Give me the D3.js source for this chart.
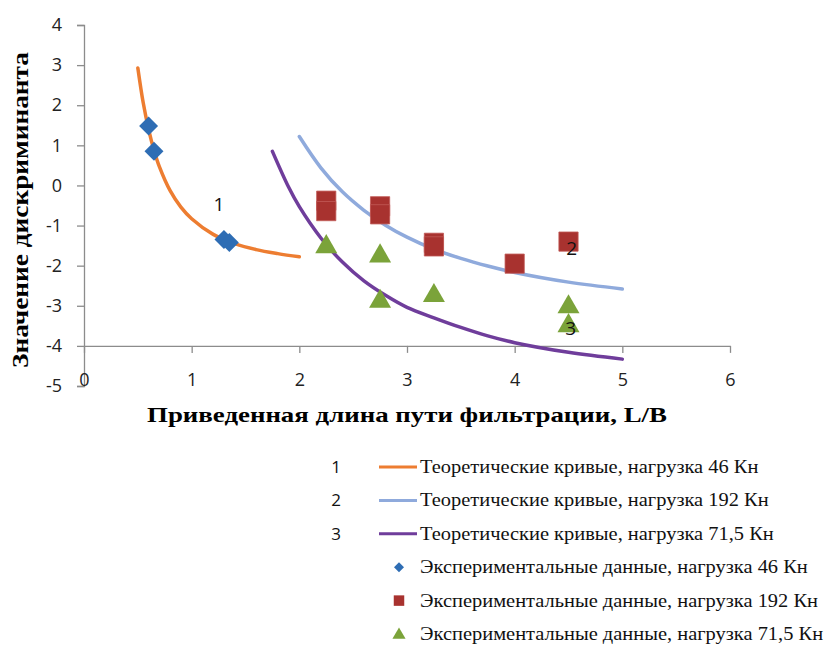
<!DOCTYPE html>
<html><head><meta charset="utf-8">
<script src="https://cdn.jsdelivr.net/npm/d3@7"></script>
<style>body{margin:0;background:#fff}svg{display:block}</style>
</head><body>
<script>
// Theoretical curves
const curve46X  = [0.5, 0.55, 0.6, 0.65, 0.7, 0.8, 0.9, 1.0, 1.2, 1.4, 1.6, 1.8, 2.0];
const curve46Y  = [2.93, 2.06, 1.40, 0.88, 0.47, -0.13, -0.54, -0.83, -1.22, -1.45, -1.60, -1.70, -1.78];
const curve192X = [2.0, 2.2, 2.4, 2.6, 2.8, 3.0, 3.25, 3.5, 3.75, 4.0, 4.5, 5.0];
const curve192Y = [1.22, 0.44, -0.16, -0.62, -0.99, -1.29, -1.59, -1.82, -2.01, -2.17, -2.41, -2.58];
const curve715X = [1.75, 1.9, 2.0, 2.2, 2.4, 2.6, 2.8, 3.0, 3.25, 3.5, 3.75, 4.0, 4.5, 5.0];
const curve715Y = [0.85, -0.04, -0.53, -1.31, -1.91, -2.38, -2.74, -3.04, -3.30, -3.54, -3.75, -3.92, -4.16, -4.33];
// Experimental data
const exp46X  = [0.6, 0.65, 1.3, 1.35];
const exp46Y  = [1.48, 0.85, -1.35, -1.42];
const exp192X = [2.25, 2.25, 2.75, 2.75, 3.25, 3.25, 4.0, 4.5];
const exp192Y = [-0.38, -0.64, -0.52, -0.72, -1.43, -1.52, -1.95, -1.40];
const exp715X = [2.25, 2.75, 2.75, 3.25, 4.5, 4.5];
const exp715Y = [-1.48, -1.71, -2.84, -2.70, -2.98, -3.45];
// Axis ticks
const xTicks = [0, 1, 2, 3, 4, 5, 6];
const yTicks = [-5, -4, -3, -2, -1, 0, 1, 2, 3, 4];
// Labels
const curveLabels = ["1", "2", "3"];
const labelX = [1.253, 4.53, 4.52];
const labelY = [-0.46, -1.56, -3.56];
const legendNames = [
  "Теоретические кривые, нагрузка 46 Кн",
  "Теоретические кривые, нагрузка 192 Кн",
  "Теоретические кривые, нагрузка 71,5 Кн",
  "Экспериментальные данные, нагрузка 46 Кн",
  "Экспериментальные данные, нагрузка 192 Кн",
  "Экспериментальные данные, нагрузка 71,5 Кн"
];
const xTitle = "Приведенная длина пути фильтрации, L/B";
const yTitle = "Значение дискриминанта";

const lineColors = ["#ED7D31", "#8FAADC", "#6F3D9B"];
const markColors = ["#2E6DB4", "#A8322F", "#7BA33A"];

const W = 830, H = 646;
const svg = d3.select("body").append("svg").attr("width", W).attr("height", H);
const x = d3.scaleLinear().domain([0, 6]).range([84, 730]);
const y = d3.scaleLinear().domain([-5, 4]).range([386, 25]);
const sans = "'Open Sans', 'Noto Sans', sans-serif";
const serif = "'Liberation Serif', 'Times New Roman', serif";
const fmt = d => String(d);

// Y axis
const gy = svg.append("g").attr("transform", `translate(${x(0)},0)`)
  .call(d3.axisLeft(y).tickValues(yTicks).tickSize(7).tickPadding(15).tickFormat(fmt));
gy.select(".domain").attr("stroke", "#8c8c8c").attr("stroke-width", 1.3);
gy.selectAll(".tick line").attr("stroke", "#8c8c8c").attr("stroke-width", 1.3);
gy.selectAll("text").attr("font-family", sans).attr("font-size", 18).attr("fill", "#222");

// X axis at y = -4
const gx = svg.append("g").attr("transform", `translate(0,${y(-4)})`)
  .call(d3.axisBottom(x).tickValues(xTicks).tickSize(7).tickPadding(20).tickSizeOuter(0).tickFormat(fmt));
gx.select(".domain").attr("stroke", "#8c8c8c").attr("stroke-width", 1.3);
gx.selectAll(".tick line").attr("stroke", "#8c8c8c").attr("stroke-width", 1.3);
gx.selectAll("text").attr("font-family", sans).attr("font-size", 18).attr("fill", "#222");

// Titles
svg.append("text").attr("x", 407).attr("y", 422).attr("text-anchor", "middle")
  .attr("font-family", serif).attr("font-weight", "bold").attr("font-size", 21.5)
  .attr("textLength", 520).attr("lengthAdjust", "spacingAndGlyphs").text(xTitle);
svg.append("text").attr("transform", `translate(28,210) rotate(-90)`).attr("text-anchor", "middle")
  .attr("font-family", serif).attr("font-weight", "bold").attr("font-size", 24)
  .attr("textLength", 316).attr("lengthAdjust", "spacingAndGlyphs").text(yTitle);

// Curves
const line = d3.line().x(d => x(d[0])).y(d => y(d[1])).curve(d3.curveCatmullRom.alpha(0.5));
const curves = [[curve46X, curve46Y], [curve192X, curve192Y], [curve715X, curve715Y]];
curves.forEach((c, i) => {
  svg.append("path").datum(d3.zip(c[0], c[1])).attr("d", line)
    .attr("fill", "none").attr("stroke", lineColors[i]).attr("stroke-width", 3.5).attr("stroke-linecap", "round");
});

// Markers
function drawMarkers(xs, ys, kind, color, size) {
  const pts = d3.zip(xs, ys);
  const g = svg.append("g").selectAll("path").data(pts).join("path");
  if (kind === "diamond") {
    g.attr("d", d3.symbol().type(d3.symbolSquare).size(size))
      .attr("transform", d => `translate(${x(d[0])},${y(d[1])}) rotate(45)`)
      .attr("fill", color);
  } else if (kind === "square") {
    g.attr("d", d3.symbol().type(d3.symbolSquare).size(size))
      .attr("transform", d => `translate(${x(d[0])},${y(d[1])})`)
      .attr("fill", color).attr("stroke", "#c25a57").attr("stroke-width", 0.8);
  } else {
    g.attr("d", d3.symbol().type(d3.symbolTriangle).size(size))
      .attr("transform", d => `translate(${x(d[0])},${y(d[1]) + 2})`)
      .attr("fill", color);
  }
}
drawMarkers(exp46X, exp46Y, "diamond", markColors[0], 180);
drawMarkers(exp192X, exp192Y, "square", markColors[1], 370);
drawMarkers(exp715X, exp715Y, "triangle", markColors[2], 210);

// Curve number labels
svg.append("g").selectAll("text").data(curveLabels).join("text")
  .attr("x", (d, i) => x(labelX[i]))
  .attr("y", (d, i) => y(labelY[i]) + 7)
  .attr("text-anchor", "middle").attr("font-family", sans).attr("font-size", 19).attr("fill", "#111")
  .text(d => d);

// Legend
const legY0 = 467, legDy = 33.4;
const leg = svg.append("g");
legendNames.forEach((name, i) => {
  const cy = legY0 + i * legDy;
  if (i < 3) {
    leg.append("text").attr("x", 336).attr("y", cy + 6).attr("text-anchor", "middle")
      .attr("font-family", sans).attr("font-size", 17).attr("fill", "#111").text(curveLabels[i]);
    leg.append("line").attr("x1", 379).attr("x2", 417).attr("y1", cy).attr("y2", cy)
      .attr("stroke", lineColors[i]).attr("stroke-width", 3);
  } else {
    const k = i - 3;
    const sym = k === 2 ? d3.symbolTriangle : d3.symbolSquare;
    const sz = k === 0 ? 50 : (k === 1 ? 110 : 75);
    const rot = k === 0 ? 45 : 0;
    leg.append("path").attr("d", d3.symbol().type(sym).size(sz))
      .attr("transform", `translate(399,${cy + (k === 2 ? 1 : 0)}) rotate(${rot})`)
      .attr("fill", markColors[k]);
  }
  leg.append("text").attr("transform", `translate(420,${cy + 6}) scale(1.136,1)`)
    .attr("font-family", serif).attr("font-size", 18).attr("fill", "#111").text(name);
});
</script>
</body></html>
